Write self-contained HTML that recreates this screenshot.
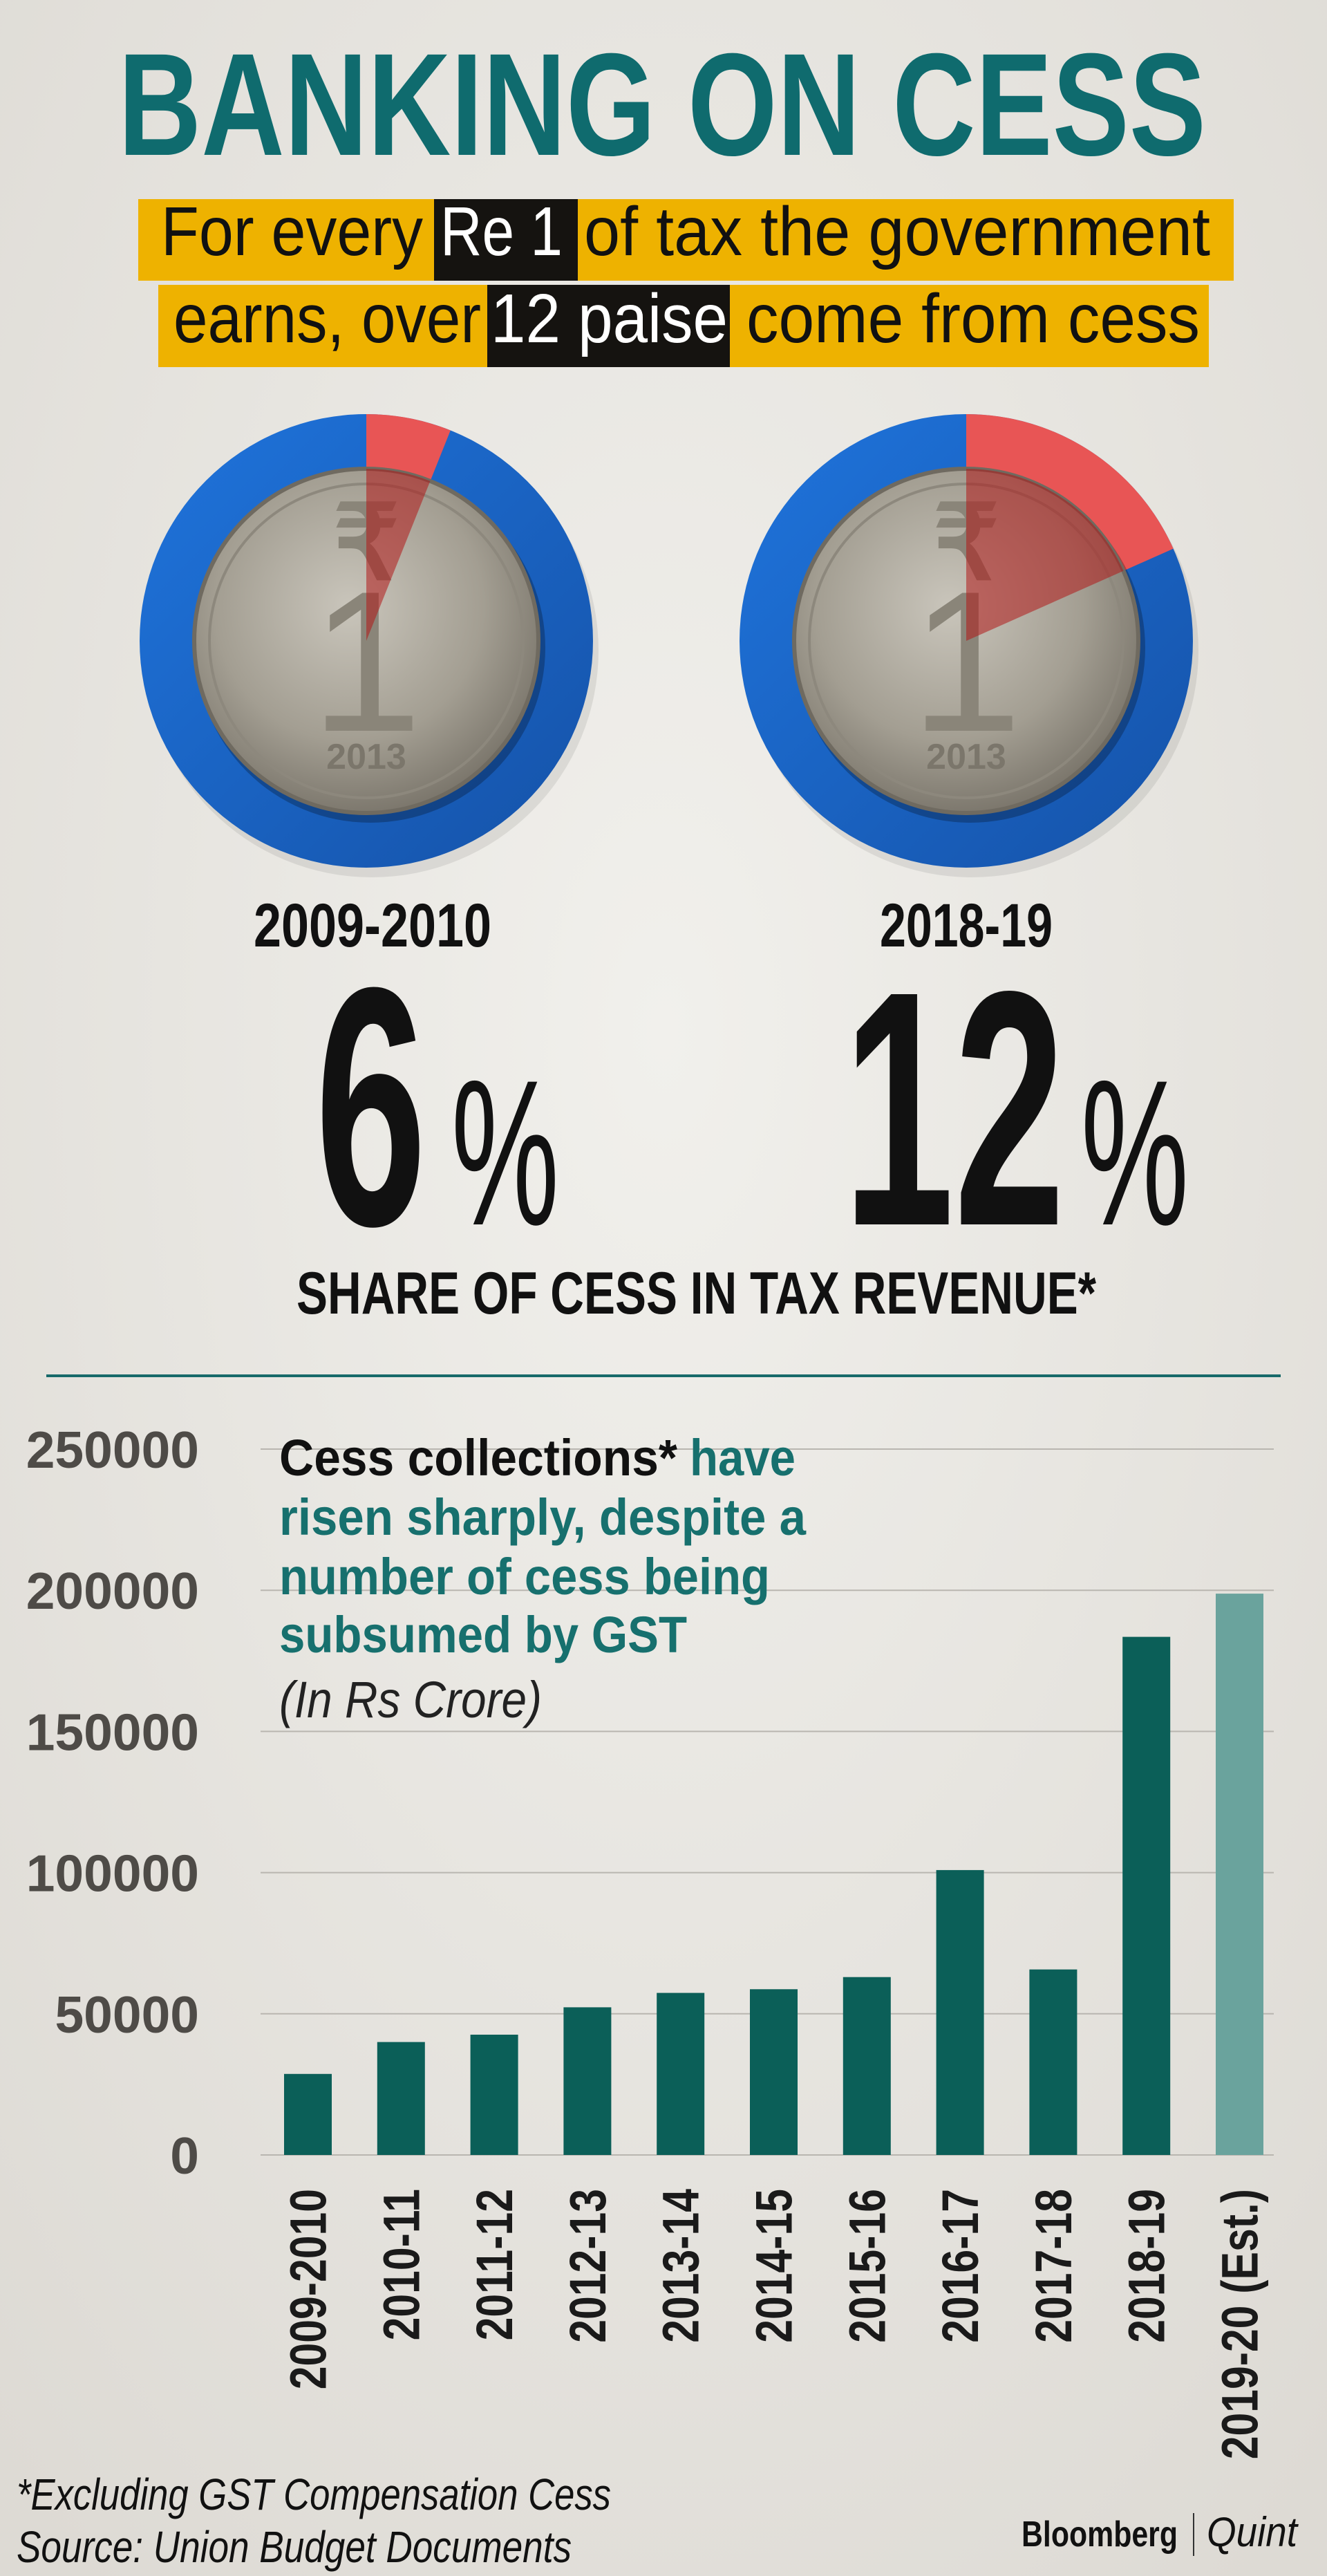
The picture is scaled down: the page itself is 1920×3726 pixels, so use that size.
<!DOCTYPE html>
<html><head><meta charset="utf-8"><style>
html,body{margin:0;padding:0;background:#e9e7e2;}
svg{display:block;}
text{font-family:"Liberation Sans",sans-serif;}
</style></head><body>
<svg id="root" width="1920" height="3726" viewBox="0 0 1920 3726" xmlns="http://www.w3.org/2000/svg">
<defs>
<radialGradient id="bg" cx="50%" cy="40%" r="75%"><stop offset="0" stop-color="#f1f0ec"/><stop offset="1" stop-color="#dddad4"/></radialGradient>
<radialGradient id="coin" cx="45%" cy="40%" r="65%"><stop offset="0" stop-color="#c9c5bb"/><stop offset="0.6" stop-color="#a39e92"/><stop offset="1" stop-color="#746f65"/></radialGradient>
<linearGradient id="ring" x1="0" y1="0" x2="1" y2="1"><stop offset="0" stop-color="#1f74dc"/><stop offset="1" stop-color="#1552a8"/></linearGradient>
</defs>
<rect width="1920" height="3726" fill="url(#bg)"/>

<text x="171" y="224" font-size="211" font-weight="bold" fill="#0f6b6e" textLength="1574" lengthAdjust="spacingAndGlyphs">BANKING ON CESS</text>

<g>
<rect x="200" y="288" width="1585" height="118" fill="#eeb200"/>
<rect x="628" y="288" width="208" height="118" fill="#151310"/>
<rect x="229" y="412" width="1520" height="119" fill="#eeb200"/>
<rect x="705" y="412" width="351" height="119" fill="#151310"/>
<text x="233" y="369" font-size="100" fill="#111" textLength="379" lengthAdjust="spacingAndGlyphs">For every</text>
<text x="637" y="369" font-size="100" fill="#fff" textLength="177" lengthAdjust="spacingAndGlyphs">Re 1</text>
<text x="845" y="369" font-size="100" fill="#111" textLength="906" lengthAdjust="spacingAndGlyphs">of tax the government</text>
<text x="251" y="495" font-size="100" fill="#111" textLength="445" lengthAdjust="spacingAndGlyphs">earns, over</text>
<text x="710" y="495" font-size="100" fill="#fff" textLength="343" lengthAdjust="spacingAndGlyphs">12 paise</text>
<text x="1080" y="495" font-size="100" fill="#111" textLength="656" lengthAdjust="spacingAndGlyphs">come from cess</text>
</g>

<g id="donuts"></g>

<text x="367" y="1369" font-size="89" font-weight="bold" fill="#111" textLength="344" lengthAdjust="spacingAndGlyphs">2009-2010</text>
<text x="1273" y="1369" font-size="89" font-weight="bold" fill="#111" textLength="250" lengthAdjust="spacingAndGlyphs">2018-19</text>
<text x="456" y="1771" font-size="492" font-weight="bold" fill="#111" textLength="161" lengthAdjust="spacingAndGlyphs">6</text>
<text x="653" y="1771" font-size="300" fill="#111" textLength="156" lengthAdjust="spacingAndGlyphs">%</text>
<text x="1220" y="1771" font-size="484" font-weight="bold" fill="#111" textLength="321" lengthAdjust="spacingAndGlyphs">12</text>
<text x="1564" y="1771" font-size="300" fill="#111" textLength="156" lengthAdjust="spacingAndGlyphs">%</text>
<text x="429" y="1900" font-size="86" font-weight="bold" fill="#111" textLength="1157" lengthAdjust="spacingAndGlyphs">SHARE OF CESS IN TAX REVENUE*</text>
<rect x="67" y="1988" width="1786" height="4" fill="#176a6a"/>

<g id="chart"></g>

<g>
<text x="404" y="2134" font-size="74" font-weight="bold" fill="#111" textLength="576" lengthAdjust="spacingAndGlyphs">Cess collections*</text>
<text x="998" y="2134" font-size="74" font-weight="bold" fill="#17706e" textLength="153" lengthAdjust="spacingAndGlyphs">have</text>
<text x="404" y="2220" font-size="74" font-weight="bold" fill="#17706e" textLength="762" lengthAdjust="spacingAndGlyphs">risen sharply, despite a</text>
<text x="404" y="2306" font-size="74" font-weight="bold" fill="#17706e" textLength="710" lengthAdjust="spacingAndGlyphs">number of cess being</text>
<text x="404" y="2390" font-size="74" font-weight="bold" fill="#17706e" textLength="590" lengthAdjust="spacingAndGlyphs">subsumed by GST</text>
<text x="404" y="2484" font-size="74" font-style="italic" fill="#222" textLength="380" lengthAdjust="spacingAndGlyphs">(In Rs Crore)</text>
</g>

<text x="24" y="3630" font-size="64" font-style="italic" fill="#111" textLength="860" lengthAdjust="spacingAndGlyphs">*Excluding GST Compensation Cess</text>
<text x="24" y="3706" font-size="64" font-style="italic" fill="#111" textLength="803" lengthAdjust="spacingAndGlyphs">Source: Union Budget Documents</text>
<g>
<text x="1478" y="3683" font-size="52" font-weight="bold" fill="#111" textLength="226" lengthAdjust="spacingAndGlyphs">Bloomberg</text>
<rect x="1726" y="3635" width="2" height="62" fill="#333"/>
<text x="1746" y="3683" font-size="60" font-style="italic" fill="#111" font-family="Liberation Serif, serif" textLength="131" lengthAdjust="spacingAndGlyphs">Quint</text>
</g>
</svg>
<script>
var NS="http://www.w3.org/2000/svg";
// donut data
var donutLabels=["2009-2010","2018-19"];
var donutShares=[6,12];
var donutWedgeDeg=[21.8,66];
// chart data
var categories=["2009-2010","2010-11","2011-12","2012-13","2013-14","2014-15","2015-16","2016-17","2017-18","2018-19","2019-20 (Est.)"];
var cessValues=[28700,40000,42600,52300,57400,58700,63000,100900,65700,183500,198800];
var yTicks=[0,50000,100000,150000,200000,250000];
var estimatedFlags=[false,false,false,false,false,false,false,false,false,false,true];

function mk(tag,attrs,parent){var e=document.createElementNS(NS,tag);for(var k in attrs)e.setAttribute(k,attrs[k]);parent.appendChild(e);return e;}

// donuts
try{
var dg=document.getElementById('donuts');
var centers=[[530,927],[1398,927]];
donutLabels.forEach(function(lb,i){
  var cx=centers[i][0],cy=centers[i][1],R=328,r=249;
  var g=mk('g',{},dg);
  
  
  mk('circle',{cx:cx+8,cy:cy+14,r:R,fill:'#000',opacity:0.08},g);
  mk('circle',{cx:cx,cy:cy,r:R,fill:'url(#ring)'},g);
  var a=donutWedgeDeg[i]*Math.PI/180;
  var x1=cx+R*Math.sin(a),y1=cy-R*Math.cos(a);
  var big=donutWedgeDeg[i]>180?1:0;
  var d='M'+cx+','+cy+' L'+cx+','+(cy-R)+' A'+R+','+R+' 0 '+big+' 1 '+x1+','+y1+' Z';
  var wedge=mk('path',{d:d,fill:'#e85555'},g);
  
  
  mk('circle',{cx:cx+6,cy:cy+10,r:r+4,fill:'#000',opacity:0.25},g);
  var coin=mk('circle',{cx:cx,cy:cy,r:r,fill:'url(#coin)',stroke:'#6f6a60','stroke-width':6},g);
  
  
  mk('circle',{cx:cx,cy:cy,r:r-22,fill:'none',stroke:'#8d887d','stroke-width':4},g);
  var t1=mk('text',{x:cx,y:cy-90,'font-size':150,'font-weight':'bold','text-anchor':'middle',fill:'#8a8579','font-family':'DejaVu Sans, sans-serif'},g);t1.textContent='₹';
  var t2=mk('text',{x:cx,y:cy+130,'font-size':290,'text-anchor':'middle',fill:'#8a8579'},g);t2.textContent='1';
  var t3=mk('text',{x:cx,y:cy+185,'font-size':52,'font-weight':'bold','text-anchor':'middle',fill:'#7b766b'},g);t3.textContent='2013';
  var d2='M'+cx+','+cy+' L'+cx+','+(cy-r)+' A'+r+','+r+' 0 '+big+' 1 '+(cx+r*Math.sin(a))+','+(cy-r*Math.cos(a))+' Z';
  mk('path',{d:d2,fill:'#b01818',opacity:0.55},g);
});
}catch(e){}

// chart
var ch=document.getElementById('chart');
var yMin=0,yMax=250000,yPix0=3117,yPix1=2096;
function yScale(v){return yPix0-(v-yMin)/(yMax-yMin)*(yPix0-yPix1);}
var x0=411,step=134.8,bw=69;
function xScale(i){return x0+i*step;}
yTicks.forEach(function(t){
  var y=yScale(t);
  var gl=mk('line',{x1:377,x2:1843,y1:y,y2:y,stroke:'#b9b6b0','stroke-width':2},ch);
  
  
  var tl=mk('text',{x:288,y:y+27,'font-size':75,'font-weight':'bold','text-anchor':'end',fill:'#4e4b47'},ch);
  
  
  tl.textContent=String(t);
});
categories.forEach(function(c,i){
  var v=cessValues[i],x=xScale(i),y=yScale(v);
  var b=mk('rect',{x:x,y:y,width:bw,height:yScale(0)-y,fill:estimatedFlags[i]?'#6aa39d':'#0b5f58'},ch);
  
  
  var cxp=x+bw/2+26;
  var lt=mk('text',{x:cxp,y:3166,'font-size':74,'font-weight':'bold','text-anchor':'end',fill:'#1a1a1a',transform:'rotate(-90 '+cxp+' 3166)'},ch);
  
  
  lt.textContent=c;
  try{var L=lt.getComputedTextLength();lt.setAttribute('textLength',L*0.82);lt.setAttribute('lengthAdjust','spacingAndGlyphs');}catch(e){}
});
</script>
</body></html>
